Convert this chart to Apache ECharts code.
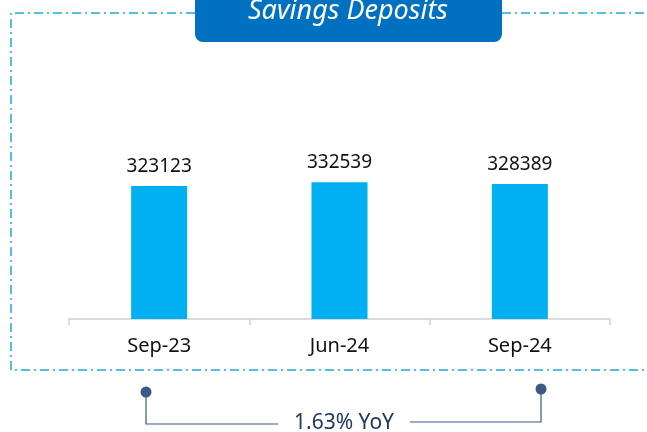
<!DOCTYPE html>
<html>
<head>
<meta charset="utf-8">
<script src="https://cdn.jsdelivr.net/npm/echarts@6/dist/echarts.min.js"></script>
<style>
  html, body { margin: 0; padding: 0; background: #fff; }
  #main { width: 647px; height: 432px; }
</style>
</head>
<body>
<div id="main"></div>
<script>
// data
var categories = ['Sep-23', 'Jun-24', 'Sep-24'];
var deposits = [323123, 332539, 328389];
var yoyText = '1.63% YoY';
var titleText = 'Savings Deposits';

var myChart = echarts.init(document.getElementById('main'));
var navy = '#3b5a86';
var option = {
    backgroundColor: '#fff',
    animation: false,
    grid: { left: 69, right: 37, top: 31, bottom: 113 },
    xAxis: {
        type: 'category',
        data: categories,
        axisLine: { lineStyle: { color: '#d0d0d0', width: 1.5 } },
        axisTick: { show: true, length: 6, lineStyle: { color: '#d0d0d0', width: 1.5 } },
        axisLabel: { color: '#111', fontSize: 20, fontFamily: 'Noto Sans', margin: 17 }
    },
    yAxis: {
        type: 'value',
        min: 0,
        max: 700000,
        show: false,
        splitLine: { show: false }
    },
    series: [{
        type: 'bar',
        data: deposits,
        barWidth: 56,
        itemStyle: { color: '#00b0f0' },
        label: {
            show: true,
            position: 'top',
            distance: 10,
            color: '#111',
            fontSize: 19,
            fontFamily: 'Noto Sans'
        }
    }],
    graphic: [
        // dash-dot frame
        {
            type: 'polyline',
            shape: { points: [[195, 13], [11, 13], [11, 370], [660, 370]] },
            style: { stroke: '#1fa9dc', lineWidth: 1.5, lineDash: [9, 4, 2, 4], fill: null },
            z: 1
        },
        {
            type: 'line',
            shape: { x1: 502, y1: 13, x2: 660, y2: 13 },
            style: { stroke: '#1fa9dc', lineWidth: 1.5, lineDash: [9, 4, 2, 4] },
            z: 1
        },
        // title box
        {
            type: 'rect',
            shape: { x: 195, y: -12, width: 307, height: 54, r: 8 },
            style: { fill: '#0070c0' },
            z: 2
        },
        {
            type: 'text',
            x: 348, y: 11,
            style: {
                text: titleText, fill: '#fff', fontSize: 27, fontStyle: 'italic',
                fontFamily: 'Noto Sans', align: 'center', verticalAlign: 'middle'
            },
            z: 3
        },
        // YoY connector
        {
            type: 'polyline',
            shape: { points: [[146, 392], [146, 424], [278, 424]] },
            style: { stroke: navy, lineWidth: 1.2, fill: null }
        },
        {
            type: 'polyline',
            shape: { points: [[410, 422], [541, 422], [541, 389]] },
            style: { stroke: navy, lineWidth: 1.2, fill: null }
        },
        {
            type: 'circle',
            shape: { cx: 146, cy: 392, r: 5.5 },
            style: { fill: navy }
        },
        {
            type: 'circle',
            shape: { cx: 541, cy: 389, r: 5.5 },
            style: { fill: navy }
        },
        {
            type: 'text',
            x: 344, y: 423,
            style: {
                text: yoyText, fill: '#1f3864', fontSize: 21,
                fontFamily: 'Noto Sans', align: 'center', verticalAlign: 'middle'
            }
        }
    ]
};
myChart.setOption(option);
</script>
</body>
</html>
